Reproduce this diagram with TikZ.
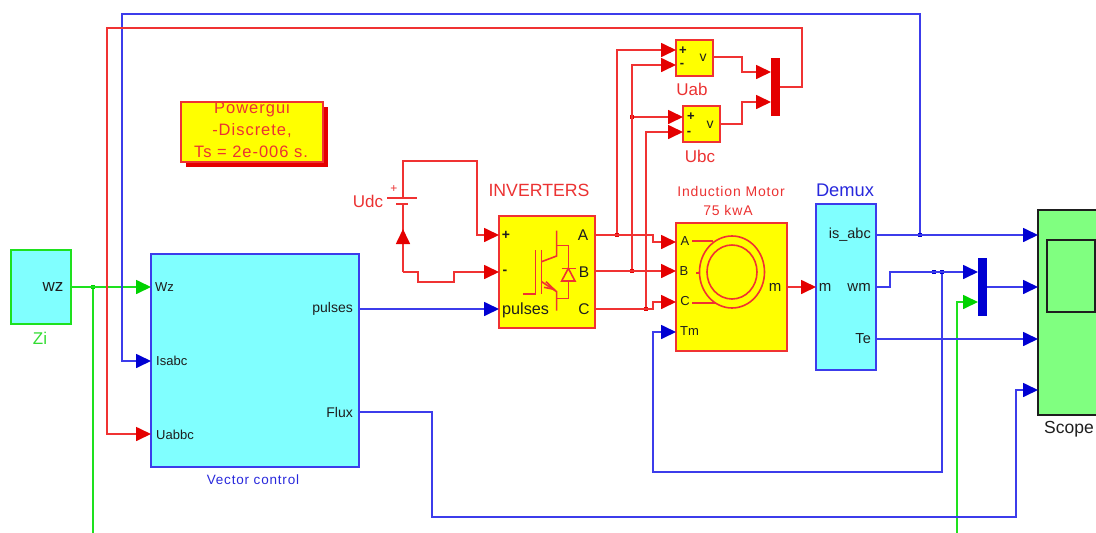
\documentclass[tikz,border=0pt]{standalone}
\usepackage{fontspec}
\setmainfont{Liberation Sans}
\newfontfamily\spacedsm[LetterSpace=6]{Liberation Sans}
\usetikzlibrary{arrows.meta,positioning,calc}
\definecolor{wr}{RGB}{240,50,50}
\definecolor{wb}{RGB}{60,60,235}
\definecolor{wg}{RGB}{30,225,30}
\definecolor{hr}{RGB}{228,0,0}
\definecolor{hb}{RGB}{0,0,210}
\definecolor{hg}{RGB}{0,210,0}
\definecolor{cy}{RGB}{128,255,255}
\definecolor{yl}{RGB}{255,255,0}
\definecolor{sg}{RGB}{128,255,128}
\definecolor{tr}{RGB}{235,50,50}
\definecolor{tb}{RGB}{40,40,220}
\definecolor{tg}{RGB}{50,220,50}
\definecolor{tk}{RGB}{30,30,30}
\tikzset{
  wire/.style={line width=1.7pt},
  redw/.style={wire,wr,-{Triangle[length=15pt,width=14pt,color=hr,fill=hr]}},
  bluew/.style={wire,wb,-{Triangle[length=15pt,width=14pt,color=hb,fill=hb]}},
  greenw/.style={wire,wg,-{Triangle[length=15pt,width=14pt,color=hg,fill=hg]}},
  rl/.style={wire,wr},
  bl/.style={wire,wb},
  gl/.style={wire,wg},
  blk/.style={rectangle,anchor=north west,inner sep=0pt,outer sep=0pt,line width=2pt},
  jnr/.style={rectangle,fill=hr,inner sep=0pt,minimum size=4.5pt},
  jnb/.style={rectangle,fill=hb,inner sep=0pt,minimum size=4.5pt},
  jng/.style={rectangle,fill=hg,inner sep=0pt,minimum size=4.5pt},
  lab/.style={inner sep=0pt,text=tk,font=\fontsize{14}{15}\selectfont},
  ttl/.style={inner sep=0pt,font=\fontsize{17}{18}\selectfont},
  pgt/.style={inner sep=0pt,text=tr,font=\spacedsm\fontsize{16.5}{17}\selectfont},
  icon/.style={line width=1.6pt,wr}
}
\begin{document}
\begin{tikzpicture}[x=1pt,y=-1pt]
\useasboundingbox (0,0) rectangle (1096,533);
\clip (0,0) rectangle (1096,533);

% ---- blocks
\node[blk,draw=wg,fill=cy,minimum width=60pt,minimum height=74pt] (zi) at (11,250) {};
\node[blk,draw=wb,fill=cy,minimum width=208pt,minimum height=213pt] (vc) at (151,254) {};
\node[blk,draw=wr,fill=yl,minimum width=96pt,minimum height=112pt] (inv) at (499,216) {};
\node[blk,draw=wr,fill=yl,minimum width=111pt,minimum height=128pt] (mot) at (676,223) {};
\node[blk,draw=wb,fill=cy,minimum width=60pt,minimum height=166pt] (dem) at (816,204) {};
\node[blk,draw=tk,fill=sg,minimum width=80pt,minimum height=205pt] (sc) at (1038,210) {};
\node[blk,draw=tk,fill=sg,line width=1.8pt,minimum width=48pt,minimum height=72pt] (scin) at (1047,240) {};
\node[blk,draw=wr,fill=yl,minimum width=37pt,minimum height=36pt] (uab) at (676,40) {};
\node[blk,draw=wr,fill=yl,minimum width=37pt,minimum height=36pt] (ubc) at (683,106) {};
\node[blk,fill=hr,minimum width=9pt,minimum height=58pt] (mr) at (771,58) {};
\node[blk,fill=hb,minimum width=9pt,minimum height=58pt] (mb) at (978,258) {};

% ---- powergui
\node[blk,fill=hr,minimum width=142pt,minimum height=60pt] (pgs) at (186,107) {};
\node[blk,draw=wr,fill=yl,minimum width=142pt,minimum height=60pt] (pg) at (181,102) {};
\begin{scope}
\clip (181,103) rectangle (323,162);
\node[pgt] (pg1) at (252,109) {Powergui};
\node[pgt] (pg2) at (252,131) {-Discrete,};
\node[pgt] (pg3) at (251,152) {Ts = 2e-006 s.};
\end{scope}

% ---- coordinates of ports and bends
\coordinate (vcW) at (151,287);
\coordinate (vcI) at (151,361);
\coordinate (vcU) at (151,434);
\coordinate (vcP) at (359,309);
\coordinate (vcF) at (359,412);
\coordinate (ziO) at (71,287);
\coordinate (invP) at (499,235);
\coordinate (invM) at (499,272);
\coordinate (invS) at (499,309);
\coordinate (invA) at (595,235);
\coordinate (invB) at (595,271);
\coordinate (invC) at (595,309);
\coordinate (moA) at (676,242);
\coordinate (moB) at (676,271);
\coordinate (moC) at (676,302);
\coordinate (moT) at (676,332);
\coordinate (moM) at (787,287);
\coordinate (deM) at (816,287);
\coordinate (deI) at (876,235);
\coordinate (deW) at (876,287);
\coordinate (deT) at (876,339);
\coordinate (sc1) at (1038,235);
\coordinate (sc2) at (1038,287);
\coordinate (sc3) at (1038,339);
\coordinate (sc4) at (1038,390);
\coordinate (uabP) at (676,50);
\coordinate (uabM) at (676,65);
\coordinate (uabO) at (713,57);
\coordinate (ubcP) at (683,117);
\coordinate (ubcM) at (683,132);
\coordinate (ubcO) at (720,124);
\coordinate (mr1) at (771,72);
\coordinate (mr2) at (771,102);
\coordinate (mrO) at (780,87);
\coordinate (mb1) at (978,272);
\coordinate (mb2) at (978,302);
\coordinate (mbO) at (987,287);

% ---- junctions
\node[jng] (jz) at (93,287) {};
\node[jnr] (jA) at (617,235) {};
\node[jnr] (jB) at (632,271) {};
\node[jnr] (jC) at (646,309) {};
\node[jnr] (jU) at (632,117) {};
\node[jnb] (jI) at (920,235) {};
\node[jnb] (jW1) at (934,272) {};
\node[jnb] (jW2) at (942,272) {};
\coordinate (gz) at (93,533);
\coordinate (gm) at (957,533);

% ---- green wires
\draw[greenw] (ziO) -- (vcW);
\draw[gl] (jz) -- (gz);
\draw[greenw] (gm) |- (mb2);

% ---- blue wires
\draw[bluew] (jI) -- (920,14) -- (122,14) |- (vcI);
\draw[bluew] (vcP) -- (invS);
\draw[bluew] (vcF) -- (432,412) -- (432,517) -- (1016,517) |- (sc4);
\draw[bluew] (deI) -- (sc1);
\draw[bluew] (deW) -- (890,287) |- (mb1);
\draw[bluew] (mbO) -- (sc2);
\draw[bluew] (deT) -- (sc3);
\draw[bluew] (jW2) -- (942,472) -- (653,472) |- (moT);

% ---- red wires
\draw[redw] (mrO) -- (802,87) -- (802,28) -- (107,28) |- (vcU);
\draw[redw] (invA) -- (653,235) -- (653,242) -- (moA);
\draw[redw] (invB) -- (moB);
\draw[redw] (invC) -- (653,309) -- (653,302) -- (moC);
\draw[redw] (moM) -- (deM);
\draw[redw] (jA) -- (617,50) -- (uabP);
\draw[redw] (jB) -- (632,65) -- (uabM);
\draw[redw] (jU) -- (ubcP);
\draw[redw] (jC) -- (646,132) -- (ubcM);
\draw[redw] (uabO) -- (742,57) -- (742,72) -- (mr1);
\draw[redw] (ubcO) -- (742,124) -- (742,102) -- (mr2);

% ---- Udc source
\coordinate (batTop) at (403,198);
\coordinate (batBot) at (403,204);
\draw[redw] (batTop) -- (403,161) -- (477,161) |- (invP);
\draw[rl] (387,198) -- (417,198);
\draw[rl] (396,204) -- (408,204);
\draw[rl] (403,204) -- (403,232);
\draw[redw] (403,272) -- (418,272) -- (418,282) -- (454,282) -- (454,272) -- (invM);
\draw[redw] (403,272) -- (403,229);

% ---- IGBT icon
\begin{scope}[shift={(480,170)},x=0.3333pt,y=-0.3333pt]
\draw[icon] (130,372) -- (167,372) -- (167,240);
\draw[icon] (185,240) -- (185,372);
\draw[icon] (230,182) -- (230,258) -- (185,275);
\draw[icon] (185,335) -- (230,365) -- (230,422);
\draw[icon] (198,335) -- (222,358) -- (192,352);
\draw[icon] (230,226) -- (265,226) -- (265,295);
\draw[icon] (265,333) -- (265,385) -- (230,385);
\draw[icon] (265,295) -- (245,333) -- (285,333) -- cycle;
\draw[icon] (245,295) -- (288,295);
\end{scope}

% ---- motor icon
\draw[icon] (732,272) ellipse (32.5 and 36);
\draw[icon] (732,272) ellipse (25 and 27);
\draw[icon] (692,241) -- (713,241);
\draw[icon] (696,273) -- (699,273);
\draw[icon] (692,303) -- (715,303);

% ---- port labels
\node[lab,font=\fontsize{17}{18}\selectfont] (lwz) at (53,287) {wz};
\node[lab,font=\fontsize{13}{14}\selectfont,anchor=west] (lWz) at (155,287) {Wz};
\node[lab,font=\fontsize{13}{14}\selectfont,anchor=west] (lIs) at (156,361) {Isabc};
\node[lab,font=\fontsize{13}{14}\selectfont,anchor=west] (lUa) at (156,435) {Uabbc};
\node[lab,anchor=east] (lpu) at (353,309) {pulses};
\node[lab,anchor=east] (lfl) at (353,412) {Flux};
\node[lab] (lip) at (506,235) {\textbf{+}};
\node[lab] (lim) at (505,272) {\textbf{-}};
\node[lab,anchor=west,font=\fontsize{16.2}{17}\selectfont] (lis) at (502,310) {pulses};
\node[lab,font=\fontsize{15.5}{16}\selectfont] (liA) at (583,235) {A};
\node[lab,font=\fontsize{15.5}{16}\selectfont] (liB) at (584,272) {B};
\node[lab,font=\fontsize{15.5}{16}\selectfont] (liC) at (584,309) {C};
\node[lab,font=\fontsize{13}{14}\selectfont] (lmA) at (685,241) {A};
\node[lab,font=\fontsize{13}{14}\selectfont] (lmB) at (684,271) {B};
\node[lab,font=\fontsize{13}{14}\selectfont] (lmC) at (685,301) {C};
\node[lab,anchor=west,font=\fontsize{13}{14}\selectfont] (lmT) at (680,331) {Tm};
\node[lab,font=\fontsize{15}{16}\selectfont] (lmm) at (775,287) {m};
\node[lab,font=\fontsize{15}{16}\selectfont] (ldm) at (825,287) {m};
\node[lab,anchor=east,font=\fontsize{14.5}{15}\selectfont] (ldi) at (871,235) {is\_abc};
\node[lab,anchor=east,font=\fontsize{15}{16}\selectfont] (ldw) at (871,287) {wm};
\node[lab,anchor=east,font=\fontsize{14.5}{15}\selectfont] (ldt) at (871,339) {Te};
\node[lab,font=\fontsize{13}{14}\selectfont] (lup) at (683,51) {\textbf{+}};
\node[lab,font=\fontsize{13}{14}\selectfont] (lum) at (682,65) {\textbf{-}};
\node[lab] (luv) at (703,58) {v};
\node[lab,font=\fontsize{13}{14}\selectfont] (lbp) at (691,117) {\textbf{+}};
\node[lab,font=\fontsize{13}{14}\selectfont] (lbm) at (689,133) {\textbf{-}};
\node[lab] (lbv) at (710,125) {v};

% ---- block titles
\node[ttl,text=tg] (tzi) at (40,338) {Zi};
\node[ttl,text=tr] (tudc) at (368,201) {Udc};
\node[inner sep=0pt,text=tr,font=\fontsize{12}{13}\selectfont] (tplus) at (394,189) {+};
\node[ttl,text=tr,font=\fontsize{17.7}{18}\selectfont] (tinv) at (539,190) {INVERTERS};
\node[ttl,text=tr,font=\spacedsm\fontsize{14}{15}\selectfont] (tim) at (731,191) {Induction Motor};
\node[ttl,text=tr,font=\spacedsm\fontsize{14}{15}\selectfont] (t75) at (728,210) {75 kwA};
\node[ttl,text=tb,font=\fontsize{18.3}{19}\selectfont] (tdem) at (845,190) {Demux};
\node[ttl,text=tr] (tuab) at (692,89) {Uab};
\node[ttl,text=tr] (tubc) at (700,156) {Ubc};
\node[ttl,text=tk,font=\fontsize{17.5}{18}\selectfont] (tsc) at (1069,429) {Scope};
\node[ttl,text=tb,font=\spacedsm\fontsize{13.5}{14}\selectfont] (tvc) at (253,480) {Vector control};
\end{tikzpicture}
\end{document}
